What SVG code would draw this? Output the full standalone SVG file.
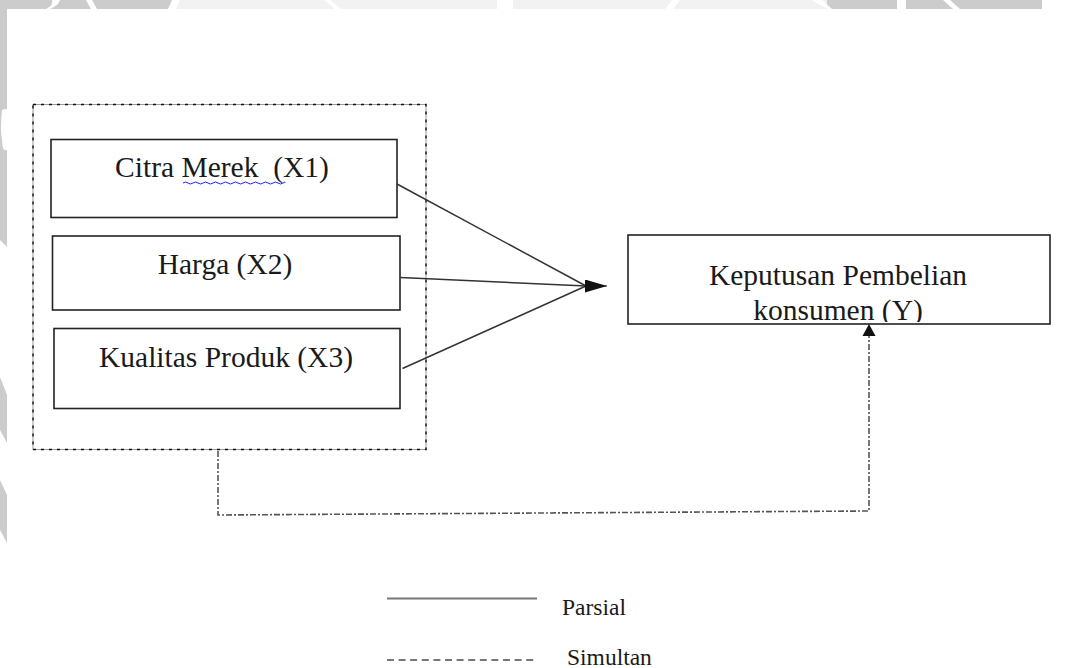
<svg xmlns="http://www.w3.org/2000/svg" width="1072" height="668" viewBox="0 0 1072 668">
<style>
.node{fill:#fff;stroke:#222;stroke-width:1.6}
.lbl{font-family:"Liberation Serif","Times New Roman",serif;font-size:29.5px;fill:#1a1a1a;text-anchor:middle}
.leg{font-family:"Liberation Serif","Times New Roman",serif;font-size:23.5px;fill:#1a1a1a}
.edge{stroke:#333;stroke-width:1.5;fill:none}
.wm{fill:#cccccc}
.wm2{fill:#f2f2f2}
</style>
<defs>
<marker id="ah" viewBox="0 0 10 10" refX="10" refY="5" markerWidth="22" markerHeight="13" markerUnits="userSpaceOnUse" orient="auto" preserveAspectRatio="none">
<path d="M0,0 L10,5 L0,10 z" fill="#111"/>
</marker>
<clipPath id="yclip"><rect x="629" y="236" width="420" height="86"/></clipPath>
</defs>
<rect width="1072" height="668" fill="#fff"/>
<g id="watermark">
<rect class="wm" x="0" y="0" width="172" height="9"/>
<rect class="wm2" x="172" y="0" width="655" height="9"/>
<rect class="wm" x="827" y="0" width="215" height="9"/>
<rect class="wm" x="0" y="0" width="7" height="230"/>
<path class="wm" d="M0,230 L7,230 L7,247 L0,240 z"/>
<path d="M52,0 L60,0 Q58,6 50,9 L46,9 Q54,5 52,0 z" fill="#fff"/>
<path d="M86,0 L92,0 L97,9 L91,9 z" fill="#fff"/>
<path d="M172,0 L180,0 L176,9 L168,9 z" fill="#fff"/>
<path d="M324,0 L330,0 L341,9 L335,9 z" fill="#fff"/>
<rect x="497" y="0" width="16" height="9" fill="#fff"/>
<path d="M672,0 L680,0 L673,9 L665,9 z" fill="#fff"/>
<path d="M812,0 L822,0 L832,9 L827,9 z" fill="#fff"/>
<rect x="897" y="0" width="9" height="9" fill="#fff"/>
<path d="M943,0 L950,0 L960,9 L953,9 z" fill="#fff"/>
<path d="M2,110 Q7,108 7,110 L7,150 Q2,152 2,140 Q0,130 2,110 z" fill="#fff"/>
<path class="wm" d="M0,377 L7,395 L7,443 L0,430 z"/>
<path class="wm" d="M0,480 L7,495 L7,543 L0,530 z"/>
</g>
<g id="group-box">
<rect x="33" y="104.5" width="393" height="345" fill="none" stroke="#9a9a9a" stroke-width="1"/>
<rect x="33" y="104.5" width="393" height="345" fill="none" stroke="#111" stroke-width="1.4" stroke-dasharray="3,5"/>
</g>
<g id="x1">
<rect class="node" x="51" y="139.5" width="346" height="78"/>
<text class="lbl" x="222" y="177" xml:space="preserve">Citra Merek  (X1)</text>
<path d="M183,183 q2.5,-2 5,0 t5,0 t5,0 t5,0 t5,0 t5,0 t5,0 t5,0 t5,0 t5,0 t5,0 t5,0 t5,0 t5,0 t5,0 t5,0 t5,0 t5,0 t5,0 t5,0 t2,0" fill="none" stroke="#2020ff" stroke-width="1"/>
</g>
<g id="x2">
<rect class="node" x="52.5" y="236" width="347.5" height="74"/>
<text class="lbl" x="225" y="273.5">Harga (X2)</text>
</g>
<g id="x3">
<rect class="node" x="54" y="328.5" width="346" height="80"/>
<text class="lbl" x="226" y="367">Kualitas Produk (X3)</text>
</g>
<g id="y">
<rect class="node" x="628" y="235" width="422" height="89"/>
<g clip-path="url(#yclip)">
<text class="lbl" x="838" y="285">Keputusan Pembelian</text>
<text class="lbl" x="838" y="319.5">konsumen (Y)</text>
</g>
</g>
<g id="connectors">
<line class="edge" x1="397" y1="184" x2="586" y2="286"/>
<line class="edge" x1="400.5" y1="277.5" x2="586" y2="286"/>
<line class="edge" x1="402.5" y1="368.5" x2="586" y2="286"/>
<line x1="584" y1="286" x2="607" y2="286" stroke="#111" stroke-width="1" marker-end="url(#ah)"/>
<polyline points="218,451 218,515 869,511 869,334" fill="none" stroke="#555" stroke-width="1.6" stroke-dasharray="6,2,2,2"/>
<path d="M869,324 L862.5,336 L875.5,336 z" fill="#111"/>
</g>
<g id="legend">
<line x1="387" y1="598.5" x2="537" y2="598.5" stroke="#777" stroke-width="2.2"/>
<text class="leg" x="562" y="615">Parsial</text>
<line x1="387" y1="660" x2="537" y2="660" stroke="#777" stroke-width="2.2" stroke-dasharray="7,4.6"/>
<text class="leg" x="567" y="665">Simultan</text>
</g>
</svg>
